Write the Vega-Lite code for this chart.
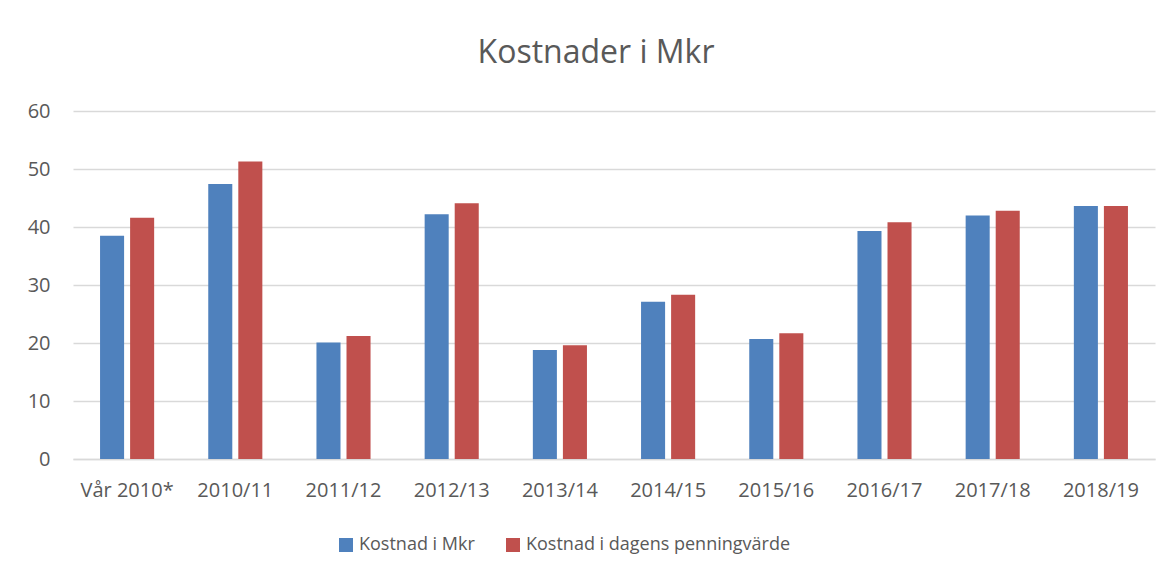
{
  "$schema": "https://vega.github.io/schema/vega-lite/v6.json",
  "width": 1082,
  "height": 348,
  "autosize": {"type": "none"},
  "padding": {"left": 73, "top": 111, "right": 18, "bottom": 117},
  "background": "white",
  "title": {"text": "Kostnader i Mkr", "fontSize": 32, "font": "Open Sans", "fontWeight": "normal", "color": "#595959", "anchor": "middle", "dx": -18, "offset": 31},
  "data": {"values": [
    {"period": "Vår 2010*", "serie": "Kostnad i Mkr", "value": 38.5},
    {"period": "Vår 2010*", "serie": "Kostnad i dagens penningvärde", "value": 41.6},
    {"period": "2010/11", "serie": "Kostnad i Mkr", "value": 47.4},
    {"period": "2010/11", "serie": "Kostnad i dagens penningvärde", "value": 51.3},
    {"period": "2011/12", "serie": "Kostnad i Mkr", "value": 20.1},
    {"period": "2011/12", "serie": "Kostnad i dagens penningvärde", "value": 21.2},
    {"period": "2012/13", "serie": "Kostnad i Mkr", "value": 42.2},
    {"period": "2012/13", "serie": "Kostnad i dagens penningvärde", "value": 44.1},
    {"period": "2013/14", "serie": "Kostnad i Mkr", "value": 18.8},
    {"period": "2013/14", "serie": "Kostnad i dagens penningvärde", "value": 19.6},
    {"period": "2014/15", "serie": "Kostnad i Mkr", "value": 27.1},
    {"period": "2014/15", "serie": "Kostnad i dagens penningvärde", "value": 28.3},
    {"period": "2015/16", "serie": "Kostnad i Mkr", "value": 20.7},
    {"period": "2015/16", "serie": "Kostnad i dagens penningvärde", "value": 21.7},
    {"period": "2016/17", "serie": "Kostnad i Mkr", "value": 39.3},
    {"period": "2016/17", "serie": "Kostnad i dagens penningvärde", "value": 40.8},
    {"period": "2017/18", "serie": "Kostnad i Mkr", "value": 42.0},
    {"period": "2017/18", "serie": "Kostnad i dagens penningvärde", "value": 42.8},
    {"period": "2018/19", "serie": "Kostnad i Mkr", "value": 43.6},
    {"period": "2018/19", "serie": "Kostnad i dagens penningvärde", "value": 43.6}
  ]},
  "mark": {"type": "bar"},
  "encoding": {
    "x": {
      "field": "period", "type": "nominal", "sort": null,
      "scale": {"paddingInner": 0.5, "paddingOuter": 0.25},
      "axis": {"title": null, "labelAngle": 0, "ticks": false, "domainColor": "#D9D9D9", "domainWidth": 1.5, "labelPadding": 21, "labelFontSize": 20, "labelColor": "#595959", "labelFont": "Open Sans"}
    },
    "xOffset": {"field": "serie", "type": "nominal", "sort": null, "scale": {"paddingInner": 0.2}},
    "y": {
      "field": "value", "type": "quantitative",
      "scale": {"domain": [0, 60]},
      "axis": {"title": null, "values": [0, 10, 20, 30, 40, 50, 60], "domain": false, "ticks": false, "labelPadding": 23, "gridColor": "#D9D9D9", "gridWidth": 1.5, "labelFontSize": 20, "labelColor": "#595959", "labelFont": "Open Sans"}
    },
    "color": {
      "field": "serie", "type": "nominal", "sort": null,
      "scale": {"domain": ["Kostnad i Mkr", "Kostnad i dagens penningvärde"], "range": ["#4F81BD", "#C0504D"]},
      "legend": {"orient": "none", "legendX": 264, "legendY": 425, "direction": "horizontal", "title": null, "symbolType": "square", "symbolSize": 196, "symbolStrokeWidth": 0, "labelFontSize": 18, "labelColor": "#595959", "labelFont": "Open Sans", "labelLimit": 500, "labelOffset": 4, "columnPadding": 29}
    }
  },
  "config": {"view": {"stroke": null}}
}
